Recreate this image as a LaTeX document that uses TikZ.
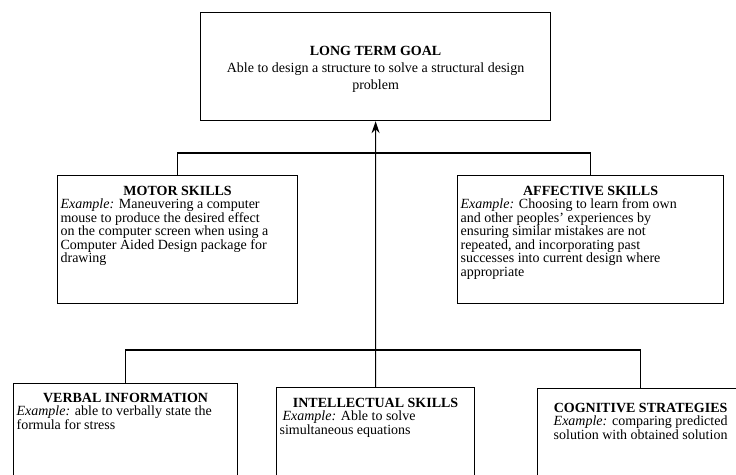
\documentclass[tikz,border=0pt]{standalone}
\usepackage{fontspec}
\setmainfont{Liberation Serif}
\usetikzlibrary{arrows.meta}
\newcommand\boxtext[4]{\vbox to #2{\hsize=#1\parindent=0pt\lineskiplimit=-100pt\kern#3\relax #4\par\vfil}}
\newcommand\ttl[1]{{\centering\textbf{#1}\par}}
\tikzset{
  skillbox/.style={draw, line width=1.2bp, rectangle, inner xsep=3bp, inner ysep=0pt,
    anchor=north west, font=\fontsize{14bp}{13.5bp}\selectfont},
  link/.style={line width=1.2bp}
}
\begin{document}
\begin{tikzpicture}[x=1bp,y=-1bp]
\fill[white] (0,0) rectangle (736,475);
\useasboundingbox (0,0) rectangle (736,475);

\node[skillbox] (goal) at (200,12) {\boxtext{344bp}{108bp}{34bp}{\baselineskip=17bp
  \centering\textbf{LONG TERM GOAL}\\ Able to design a structure to solve a structural design\\ problem}};

\node[skillbox] (motor) at (57,175) {\boxtext{234bp}{128bp}{10.5bp}{\ttl{MOTOR SKILLS}\raggedright
  \textit{Example:} Maneuvering a computer\\ mouse to produce the desired effect\\ on the computer screen when using a\\ Computer Aided Design package for\\ drawing}};

\node[skillbox] (affective) at (457,175) {\boxtext{260bp}{128bp}{10.5bp}{\ttl{AFFECTIVE SKILLS}\raggedright
  \textit{Example:} Choosing to learn from own\\ and other peoples' experiences by\\ ensuring similar mistakes are not\\ repeated, and incorporating past\\ successes into current design where\\ appropriate}};

\node[skillbox] (verbal) at (13,383) {\boxtext{218bp}{140bp}{9.5bp}{\ttl{VERBAL INFORMATION}\raggedright
  \textit{Example:} able to verbally state the\\ formula for stress}};

\node[skillbox] (intel) at (276,387) {\boxtext{192bp}{140bp}{10.5bp}{\ttl{INTELLECTUAL SKILLS}\raggedright
  \hspace*{3bp}\textit{Example:} Able to solve\\ simultaneous equations}};

\node[skillbox] (cognitive) at (537,388) {\boxtext{200bp}{140bp}{14.5bp}{\ttl{COGNITIVE STRATEGIES}\centering
  \textit{Example:} comparing predicted\\ solution with obtained solution}};

\coordinate (ub) at (375,153);
\coordinate (lb) at (375,350);
\draw[link] (motor.north) |- (ub) -| (affective.north);
\draw[link] (verbal.north) |- (lb) -| (cognitive.north);
\draw[link,-{Stealth[length=12bp,width=8bp]}] (intel.north) -- (goal.south);
\end{tikzpicture}
\end{document}
